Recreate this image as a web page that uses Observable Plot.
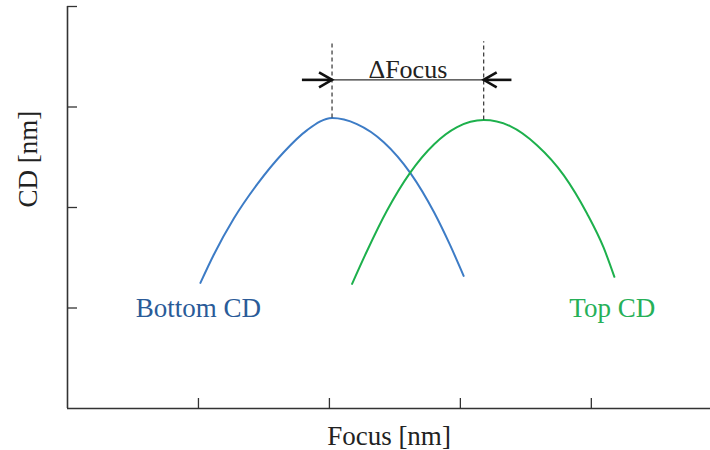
<!DOCTYPE html>
<html><head><meta charset="utf-8">
<script src="https://cdn.jsdelivr.net/npm/d3@7"></script>
<script src="https://cdn.jsdelivr.net/npm/@observablehq/plot@0.6"></script>
<style>body{margin:0;background:#fff} svg{display:block}</style>
</head><body><div id="chart"></div>
<script>
// ---- data ----
const xTicks = [1, 2, 3, 4];
const yTicks = [1, 2, 3, 4];
const xMax = 4.91, yMax = 4;

const bottomFocus = [1.015, 1.117, 1.27, 1.448, 1.651, 1.83, 2.02, 2.21, 2.415, 2.62, 2.80, 2.92, 3.025];
const bottomCD    = [1.25, 1.53, 1.89, 2.23, 2.55, 2.77, 2.89, 2.83, 2.65, 2.34, 1.95, 1.63, 1.32];

const topFocus = [2.173, 2.288, 2.44, 2.613, 2.80, 2.975, 3.178, 3.38, 3.585, 3.79, 3.967, 4.094, 4.176];
const topCD    = [1.24, 1.57, 1.97, 2.34, 2.63, 2.80, 2.87, 2.81, 2.62, 2.32, 1.94, 1.60, 1.31];

const seriesNames = ["Bottom CD", "Top CD"];
const labelFocus = [1.0, 4.16];
const labelCD = [1.0, 1.0];

const peakFocus = [2.02, 3.178];
const peakCD = [2.89, 2.87];
const markerTop = 3.65;
const arrowCD = 3.27;
const arrowTail = [1.79, 3.39];
const deltaLabel = "ΔFocus";

const colors = ["#3d7cc6", "#1db04c"];
const labelColors = ["#2a5b98", "#26b058"];

// ---- build ----
const bottomRows = bottomFocus.map((x, i) => ({x, y: bottomCD[i]}));
const topRows = topFocus.map((x, i) => ({x, y: topCD[i]}));
const idx = [0, 1];
const chevron = {
  draw(ctx) {
    ctx.moveTo(-7.5, 13);
    ctx.lineTo(0, 0);
    ctx.lineTo(7.5, 13);
  }
};

const serif = "Liberation Serif, Times New Roman, serif";

const chart = Plot.plot({
  width: 710,
  height: 450,
  marginLeft: 67,
  marginRight: 0,
  marginTop: 6,
  marginBottom: 42,
  style: {fontFamily: serif, background: "#fff"},
  x: {domain: [0, xMax]},
  y: {domain: [0, yMax]},
  marks: [
    Plot.axisX({ticks: xTicks, tickSize: -10, tickFormat: () => "", label: null, stroke: "#333", strokeWidth: 1.3}),
    Plot.axisY({ticks: yTicks, tickSize: -10, tickFormat: () => "", label: null, stroke: "#333", strokeWidth: 1.3}),
    Plot.ruleX([0], {y1: 0, y2: yMax, stroke: "#333", strokeWidth: 1.6}),
    Plot.ruleY([0], {stroke: "#333", strokeWidth: 1.6}),
    Plot.line(bottomRows, {x: "x", y: "y", curve: "monotone-x", stroke: colors[0], strokeWidth: 2}),
    Plot.line(topRows, {x: "x", y: "y", curve: "monotone-x", stroke: colors[1], strokeWidth: 2}),
    Plot.ruleX(idx, {x: i => peakFocus[i], y1: i => peakCD[i], y2: markerTop, stroke: "#333", strokeWidth: 1.2, strokeDasharray: "4,3"}),
    Plot.link([0], {x1: peakFocus[0], x2: peakFocus[1], y1: arrowCD, y2: arrowCD, stroke: "#333", strokeWidth: 1.4}),
    Plot.link(idx, {x1: i => arrowTail[i], x2: i => peakFocus[i], y1: arrowCD, y2: arrowCD, stroke: "#111", strokeWidth: 2.6}),
    Plot.vector(idx, {x: i => peakFocus[i], y: arrowCD, rotate: i => (i === 0 ? 90 : -90), anchor: "start", length: 13, shape: chevron, stroke: "#111", strokeWidth: 2.6, strokeLinejoin: "miter", strokeLinecap: "butt"}),
    Plot.text([deltaLabel], {x: (peakFocus[0] + peakFocus[1]) / 2, y: arrowCD, text: d => d, lineAnchor: "bottom", dy: -2, fontSize: 26, fill: "#222"}),
    Plot.text(idx, {x: i => labelFocus[i], y: i => labelCD[i], text: i => seriesNames[i], fill: i => labelColors[i], fontSize: 27, lineAnchor: "middle"}),
    Plot.text(["CD [nm]"], {frameAnchor: "left", text: d => d, rotate: -90, dx: -39, fontSize: 27, fill: "#222"}),
    Plot.text(["Focus [nm]"], {frameAnchor: "bottom", text: d => d, dy: 28, fontSize: 27, fill: "#222", lineAnchor: "middle"})
  ]
});
document.getElementById("chart").append(chart);
</script>
</body></html>
